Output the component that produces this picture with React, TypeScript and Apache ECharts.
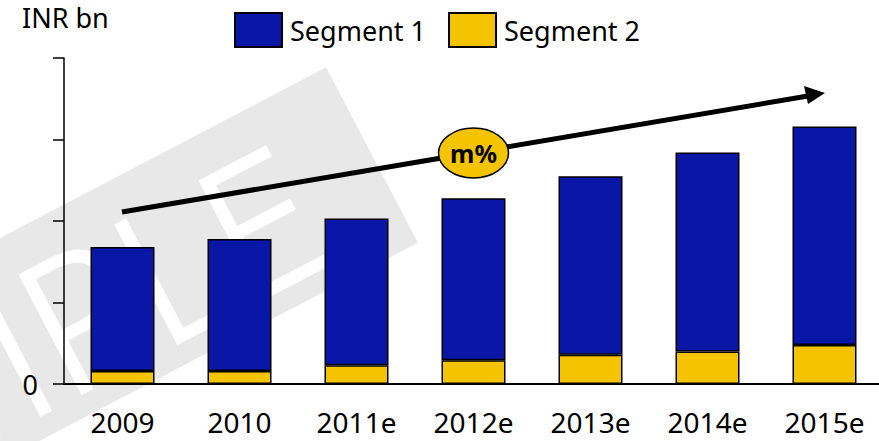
import React, { useEffect, useRef } from "react";
import * as echarts from "echarts";

const categories = ["2009", "2010", "2011e", "2012e", "2013e", "2014e", "2015e"];
const segment1 = [152, 162, 180, 199, 219, 244, 268];
const segment2 = [16, 16, 23, 29, 36, 40, 48];
const yTicks = [0, 100, 200, 300, 400];
const unitLabel = "INR bn";
const growthLabel = "m%";
const watermark = "SAMPLE";

const FONT = "'Noto Sans', 'Open Sans', sans-serif";
const BLUE = "#0A16A6";
const YELLOW = "#F5C400";

export default function App() {
  const ref = useRef<HTMLDivElement>(null);
  useEffect(() => {
    if (!ref.current) return;
    const chart = echarts.init(ref.current, null, { renderer: "svg" });
    chart.setOption({
      animation: false,
      backgroundColor: "#ffffff",
      textStyle: { fontFamily: FONT },
      grid: {
        left: 64,
        top: 58,
        width: 819,
        height: 326,
        containLabel: false,
        outerBoundsMode: "none",
      },
      legend: {
        left: 229,
        top: 7,
        icon: "rect",
        itemWidth: 47,
        itemHeight: 34,
        itemGap: 22,
        data: ["Segment 1", "Segment 2"],
        textStyle: { fontFamily: FONT, fontSize: 27, color: "#000", padding: [0, 0, 0, 3] },
      },
      xAxis: {
        type: "category",
        data: categories,
        axisLine: { lineStyle: { color: "#000", width: 2 } },
        axisTick: { show: false },
        axisLabel: { fontFamily: FONT, fontSize: 28, color: "#000", margin: 24 },
      },
      yAxis: {
        type: "value",
        min: yTicks[0],
        max: yTicks[yTicks.length - 1],
        interval: 100,
        splitLine: { show: false },
        axisLine: { show: true, lineStyle: { color: "#000", width: 1.5 } },
        axisTick: { show: true, length: 11, lineStyle: { color: "#000", width: 1.5 } },
        axisLabel: {
          fontFamily: FONT,
          fontSize: 27,
          color: "#000",
          margin: 26,
          formatter: (v: number) => (v === 0 ? "0" : ""),
        },
      },
      series: [
        {
          name: "Segment 2",
          type: "bar",
          stack: "total",
          barWidth: 64,
          data: segment2,
          itemStyle: { color: YELLOW, borderColor: "#000", borderWidth: 1.5 },
          z: 3,
        },
        {
          name: "Segment 1",
          type: "bar",
          stack: "total",
          barWidth: 64,
          data: segment1,
          itemStyle: { color: BLUE, borderColor: "#000", borderWidth: 1.5 },
          z: 3,
        },
      ],
      graphic: [
        {
          type: "group",
          x: 372,
          y: 155,
          rotation: 0.483,
          z: -10,
          silent: true,
          children: [
            {
              type: "rect",
              shape: { x: -900, y: -99, width: 900, height: 198 },
              style: { fill: "#e8e8e8" },
              z: -10,
            },
            {
              type: "text",
              x: -80,
              y: 4,
              z: -9,
              style: {
                text: watermark,
                fill: "#ffffff",
                stroke: "#ffffff",
                lineWidth: 4,
                fontSize: 185,
                fontWeight: 300,
                fontFamily: "'Open Sans', 'Noto Sans', sans-serif",
                align: "right",
                verticalAlign: "middle",
              },
            },
          ],
        },
        {
          type: "text",
          left: 22,
          top: 4,
          style: { text: unitLabel, fontSize: 27, fontFamily: FONT, fill: "#000" },
        },
        {
          type: "line",
          z: 10,
          shape: { x1: 122, y1: 212, x2: 808, y2: 96 },
          style: { stroke: "#000", lineWidth: 5 },
        },
        {
          type: "polygon",
          z: 10,
          shape: { points: [[825, 93], [804, 86], [808, 104]] },
          style: { fill: "#000" },
        },
        {
          type: "ellipse",
          z: 11,
          shape: { cx: 473.5, cy: 153, rx: 35, ry: 25 },
          style: { fill: YELLOW, stroke: "#000", lineWidth: 1.5 },
        },
        {
          type: "text",
          z: 12,
          x: 473.5,
          y: 153,
          style: {
            text: growthLabel,
            fontSize: 25,
            fontWeight: "bold",
            fontFamily: FONT,
            fill: "#000",
            align: "center",
            verticalAlign: "middle",
          },
        },
      ],
    });
    return () => chart.dispose();
  }, []);
  return <div ref={ref} style={{ width: 879, height: 441, position: "absolute", left: 0, top: 0 }} />;
}
